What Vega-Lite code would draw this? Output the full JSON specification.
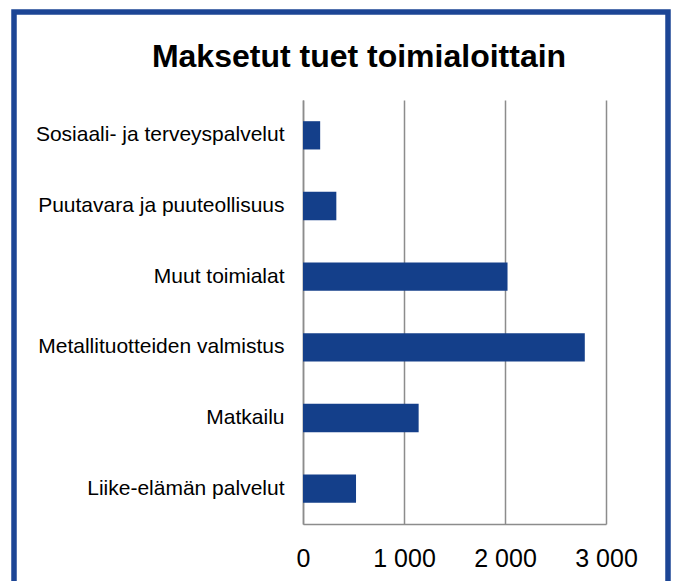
{
  "$schema": "https://vega.github.io/schema/vega-lite/v6.json",
  "autosize": {"type": "none"},
  "padding": {"left": 14, "top": 12, "right": 5, "bottom": -31},
  "width": 654,
  "height": 600,
  "background": "white",
  "title": {
    "text": "Maksetut tuet toimialoittain",
    "font": "Liberation Sans",
    "fontSize": 32,
    "fontWeight": "bold",
    "color": "#000000",
    "anchor": "middle",
    "frame": "group",
    "baseline": "alphabetic",
    "offset": -87,
    "dx": 18
  },
  "config": {
    "view": {"stroke": "#1C4595", "strokeWidth": 5.5, "fill": "white"},
    "font": "Liberation Sans"
  },
  "data": {
    "values": [
      {"toimiala": "Sosiaali- ja terveyspalvelut", "tuki": 170},
      {"toimiala": "Puutavara ja puuteollisuus", "tuki": 330},
      {"toimiala": "Muut toimialat", "tuki": 2025},
      {"toimiala": "Metallituotteiden valmistus", "tuki": 2790},
      {"toimiala": "Matkailu", "tuki": 1145},
      {"toimiala": "Liike-elämän palvelut", "tuki": 525}
    ]
  },
  "mark": {"type": "bar", "color": "#143F8A"},
  "encoding": {
    "y": {
      "field": "toimiala",
      "type": "nominal",
      "sort": null,
      "scale": {"range": [88, 512], "paddingInner": 0.6, "paddingOuter": 0.3},
      "axis": {
        "title": null,
        "orient": "left",
        "offset": -289,
        "domain": true,
        "domainColor": "#8C8C8C",
        "domainWidth": 1.5,
        "ticks": false,
        "grid": false,
        "labelPadding": 19,
        "labelFontSize": 21,
        "labelColor": "#000000",
        "labelFont": "Liberation Sans",
        "labelLimit": 400
      }
    },
    "x": {
      "field": "tuki",
      "type": "quantitative",
      "scale": {"domain": [0, 3000], "range": [289, 592], "nice": false},
      "axis": {
        "title": null,
        "orient": "bottom",
        "offset": -88,
        "values": [0, 1000, 2000, 3000],
        "labelExpr": "replace(format(datum.value, ','), ',', ' ')",
        "domain": true,
        "domainColor": "#8C8C8C",
        "domainWidth": 1.5,
        "ticks": false,
        "grid": true,
        "gridColor": "#8C8C8C",
        "gridWidth": 1.5,
        "labelPadding": 22,
        "labelFontSize": 25,
        "labelColor": "#000000",
        "labelFont": "Liberation Sans",
        "labelFlush": false
      }
    }
  }
}
